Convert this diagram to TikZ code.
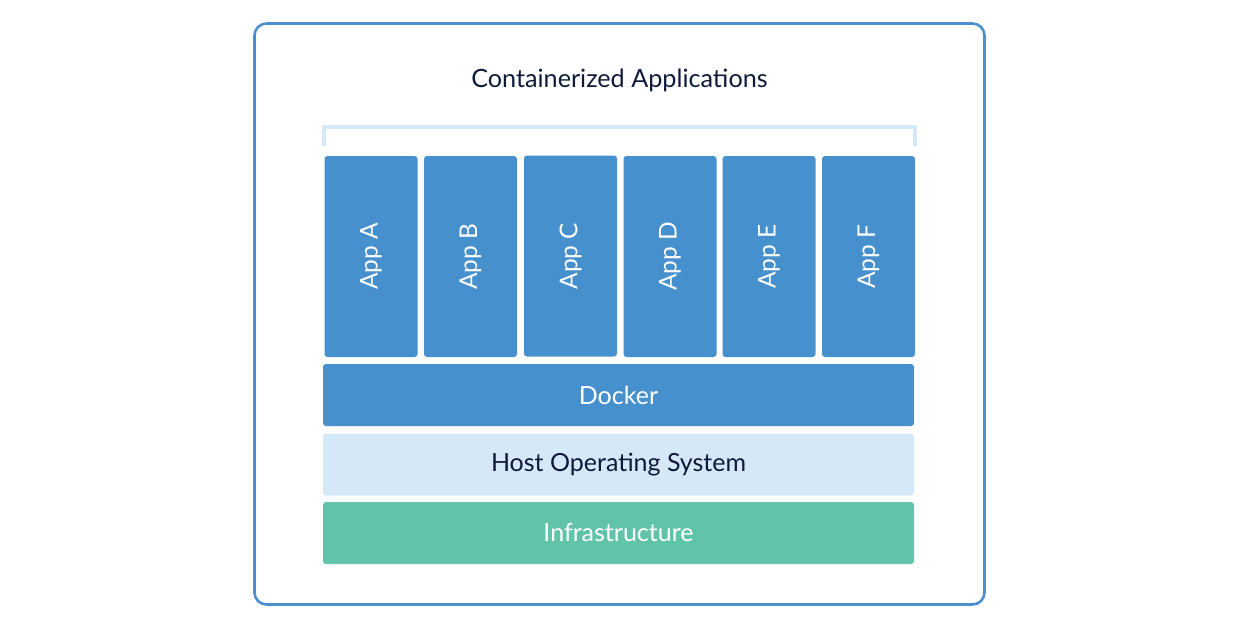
\documentclass[tikz,border=0pt]{standalone}
\usepackage{fontspec}
\setmainfont{Lato}
\usetikzlibrary{positioning}
\definecolor{appblue}{HTML}{4590CD}
\definecolor{framblue}{HTML}{4A90CF}
\definecolor{paleblue}{HTML}{D4E8F8}
\definecolor{infragreen}{HTML}{62C3AB}
\definecolor{navy}{HTML}{0F1A3A}
\tikzset{
  frame/.style={draw=framblue, line width=2.6pt, rounded corners=12pt},
  bracket/.style={draw=paleblue, line width=4pt},
  appbox/.style={fill=appblue, rounded corners=3pt, minimum width=93pt, minimum height=201pt, inner sep=0pt,
    text=white, font=\fontsize{24.5}{28}\selectfont},
  layer/.style={rounded corners=3pt, minimum width=591pt, minimum height=62pt, inner sep=0pt,
    font=\fontsize{25}{29}\selectfont},
  title/.style={text=navy, font=\fontsize{25.2}{29}\selectfont}
}
\begin{document}
\begin{tikzpicture}[x=1pt,y=-1pt]
  \useasboundingbox (0,0) rectangle (1239,630);
  \draw[frame] (254.5,23.5) rectangle (984.5,604.5);
  \node[title] (title) at (619.5,80.5) {Containerized Applications};
  % bracket over the apps
  \draw[bracket] (324,146) -- (324,127) -- (915,127) -- (915,146);
  % app containers
  \node[appbox] (appA) at (371,256.5) {\rotatebox{90}{App A}};
  \node[appbox] (appB) at (470.5,256.5) {\rotatebox{90}{App B}};
  \node[appbox] (appC) at (570.5,256) {\rotatebox{90}{App C}};
  \node[appbox] (appD) at (670,256.5) {\rotatebox{90}{App D}};
  \node[appbox] (appE) at (769,256.5) {\rotatebox{90}{App E}};
  \node[appbox] (appF) at (868.5,256.5) {\rotatebox{90}{App F}};
  % layers
  \node[layer, fill=appblue, text=white] (docker) at (618.5,395) {Docker};
  \node[layer, fill=paleblue, text=navy] (hostos) at (618.5,464.5) {Host Operating System};
  \node[layer, fill=infragreen, text=white] (infra) at (618.5,533) {Infrastructure};
\end{tikzpicture}
\end{document}
